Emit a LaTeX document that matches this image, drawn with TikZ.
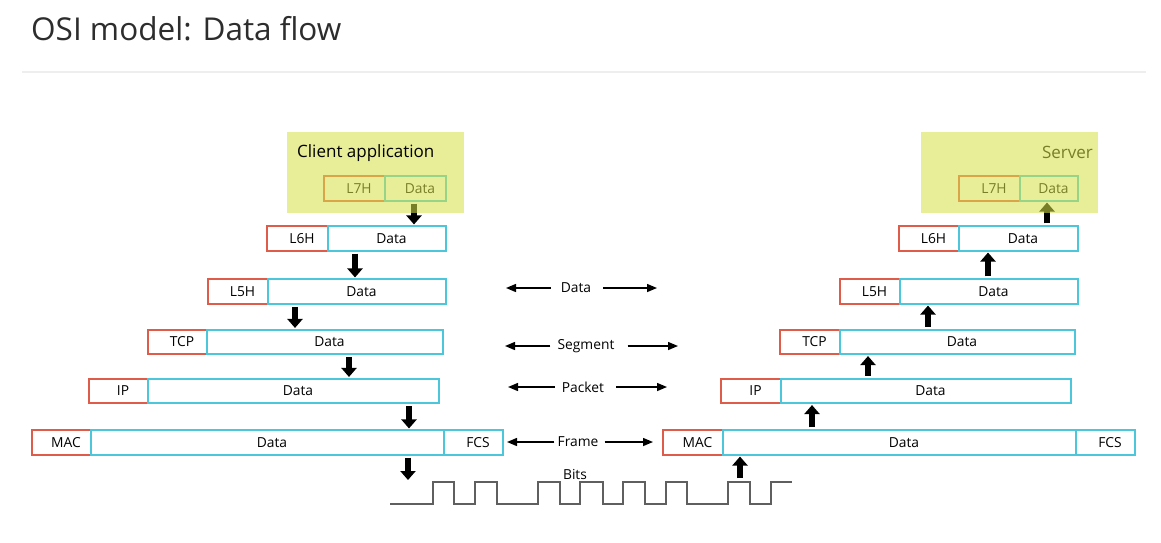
\documentclass[tikz,border=0pt]{standalone}
\usepackage{fontspec}
\setmainfont{Open Sans}
\usetikzlibrary{arrows.meta}
\definecolor{hred}{RGB}{224,92,74}
\definecolor{dcyan}{RGB}{75,198,218}
\definecolor{veil}{RGB}{214,223,71}
\definecolor{wavegray}{RGB}{95,95,95}
\definecolor{titlegray}{RGB}{45,45,45}
\definecolor{rulegray}{RGB}{238,238,238}

% one rectangular PDU field: name, style, left x, right x, centre y, text
\newcommand\pdufield[6]{%
  \node[#2, minimum width={(#4-#3)*1pt}] (#1) at ({(#3+#4)/2},#5) {#6};}

\begin{document}
\begin{tikzpicture}[x=1pt,y=-1pt,
  fieldbox/.style={line width=1.6pt, minimum height=24.5pt, inner sep=0pt,
    font=\fontsize{13.8}{16}\selectfont,
    execute at begin node={\hspace*{9pt}}},
  hdr/.style={fieldbox, draw=hred},
  dat/.style={fieldbox, draw=dcyan},
  blk/.style={line width=6pt, -{Triangle[width=15pt,length=9pt]},
    shorten <=2pt, shorten >=1pt},
  pduarrow/.style={line width=1.4pt, -{Triangle[width=8pt,length=10pt]}},
  pdulabel/.style={font=\fontsize{13.8}{16}\selectfont, inner sep=0pt},
  veilbox/.style={fill=veil, fill opacity=0.56, draw=none}]

\useasboundingbox (0,0) rectangle (1161,542);

% heading
\node[anchor=base west, inner sep=0pt, text=titlegray,
  font=\fontsize{31.5}{36}\selectfont] (title) at (31,40) {OSI model: Data flow};
\draw[rulegray, line width=2pt] (22,72) -- (1146,72);

% ---------------- sending side ----------------
\pdufield{l7h}{hdr}{324}{385}{188.5}{L7H}
\pdufield{l7d}{dat}{385}{446}{188.5}{Data}
\pdufield{l6h}{hdr}{267}{328}{238.5}{L6H}
\pdufield{l6d}{dat}{328}{446}{238.5}{Data}
\pdufield{l5h}{hdr}{208}{268}{291.5}{L5H}
\pdufield{l5d}{dat}{268}{446}{291.5}{Data}
\pdufield{l4h}{hdr}{148}{207}{342}{TCP}
\pdufield{l4d}{dat}{207}{443}{342}{Data}
\pdufield{l3h}{hdr}{89}{148}{391}{IP}
\pdufield{l3d}{dat}{148}{439}{391}{Data}
\pdufield{l2h}{hdr}{32}{91}{442.5}{MAC}
\pdufield{l2d}{dat}{91}{444}{442.5}{Data}
\pdufield{l2f}{dat}{444}{503}{442.5}{FCS}

\draw[blk] ([xshift=-1.5pt]l7d.south) -- ([xshift=-1.5pt]l7d.south |- l6d.north);
\draw[blk] ([xshift=-32pt]l6d.south) -- ([xshift=-32pt]l6d.south |- l5d.north);
\draw[blk] ([xshift=-62pt]l5d.south) -- ([xshift=-62pt]l5d.south |- l4d.north);
\draw[blk] ([xshift=24pt]l4d.south) -- ([xshift=24pt]l4d.south |- l3d.north);
\draw[blk] ([xshift=115.5pt]l3d.south) -- ([xshift=115.5pt]l3d.south |- l2d.north);
\coordinate (txbits) at (408,481);
\draw[blk] (l2d.south -| txbits) -- (txbits);

% client application area
\path[veilbox] (287,132) rectangle (464,213);
\node[anchor=base west, inner sep=0pt, font=\fontsize{17}{20}\selectfont]
  (client) at (297,157) {Client application};

% ---------------- receiving side ----------------
\pdufield{r7h}{hdr}{959}{1020}{188.5}{L7H}
\pdufield{r7d}{dat}{1020}{1078}{188.5}{Data}
\pdufield{r6h}{hdr}{899}{959}{238.5}{L6H}
\pdufield{r6d}{dat}{959}{1078}{238.5}{Data}
\pdufield{r5h}{hdr}{840}{900}{291.5}{L5H}
\pdufield{r5d}{dat}{900}{1078}{291.5}{Data}
\pdufield{r4h}{hdr}{780}{840}{342}{TCP}
\pdufield{r4d}{dat}{840}{1075}{342}{Data}
\pdufield{r3h}{hdr}{721}{781}{391}{IP}
\pdufield{r3d}{dat}{781}{1071}{391}{Data}
\pdufield{r2h}{hdr}{663}{723}{442.5}{MAC}
\pdufield{r2d}{dat}{723}{1076}{442.5}{Data}
\pdufield{r2f}{dat}{1076}{1135}{442.5}{FCS}

\coordinate (rxbits) at (740,480);
\draw[blk] (rxbits) -- (rxbits |- r2d.south);
\draw[blk] ([xshift=-87.5pt]r2d.north) -- ([xshift=-87.5pt]r2d.north |- r3d.south);
\draw[blk] ([xshift=-58pt]r3d.north) -- ([xshift=-58pt]r3d.north |- r4d.south);
\draw[blk] ([xshift=-29.5pt]r4d.north) -- ([xshift=-29.5pt]r4d.north |- r5d.south);
\draw[blk] ([xshift=-1pt]r5d.north) -- ([xshift=-1pt]r5d.north |- r6d.south);
\draw[blk] ([xshift=28.5pt]r6d.north) -- ([xshift=28.5pt]r6d.north |- r7d.south);

% server area
\node[anchor=base east, inner sep=0pt, font=\fontsize{17}{20}\selectfont]
  (server) at (1093,158) {Server};
\path[veilbox] (921,132) rectangle (1098,213);

% ---------------- PDU names between the stacks ----------------
\node[pdulabel] (pdata) at (576,288) {Data};
\node[pdulabel] (pseg) at (586,346) {Segment};
\node[pdulabel] (ppkt) at (583,387) {Packet};
\node[pdulabel] (pfrm) at (578,442) {Frame};
\node[pdulabel] (pbits) at (575,474) {Bits};

\coordinate (dataL) at (506,288);  \coordinate (dataR) at (657,288);
\coordinate (segL) at (505,346);   \coordinate (segR) at (678,346);
\coordinate (pktL) at (508,387);   \coordinate (pktR) at (667,387);
\coordinate (frmL) at (507,442);   \coordinate (frmR) at (653,442);

\draw[pduarrow] ([xshift=-10pt]pdata.west) -- (dataL);
\draw[pduarrow] ([xshift=12pt]pdata.east) -- (dataR);
\draw[pduarrow] ([xshift=-7pt]pseg.west) -- (segL);
\draw[pduarrow] ([xshift=13pt]pseg.east) -- (segR);
\draw[pduarrow] ([xshift=-7pt]ppkt.west) -- (pktL);
\draw[pduarrow] ([xshift=12pt]ppkt.east) -- (pktR);
\draw[pduarrow] ([xshift=-3pt]pfrm.west) -- (frmL);
\draw[pduarrow] ([xshift=6pt]pfrm.east) -- (frmR);

% bit stream
\draw[wavegray, line width=1.5pt, line join=miter]
  (390,504) -- (433,504) -- (433,482) -- (454,482) -- (454,504)
  -- (475,504) -- (475,482) -- (497,482) -- (497,504)
  -- (538,504) -- (538,482) -- (560,482) -- (560,504)
  -- (580,504) -- (580,482) -- (603,482) -- (603,504)
  -- (623,504) -- (623,482) -- (645,482) -- (645,504)
  -- (666,504) -- (666,482) -- (687,482) -- (687,504)
  -- (728,504) -- (728,482) -- (750,482) -- (750,504)
  -- (771,504) -- (771,482) -- (792,482);

\end{tikzpicture}
\end{document}
